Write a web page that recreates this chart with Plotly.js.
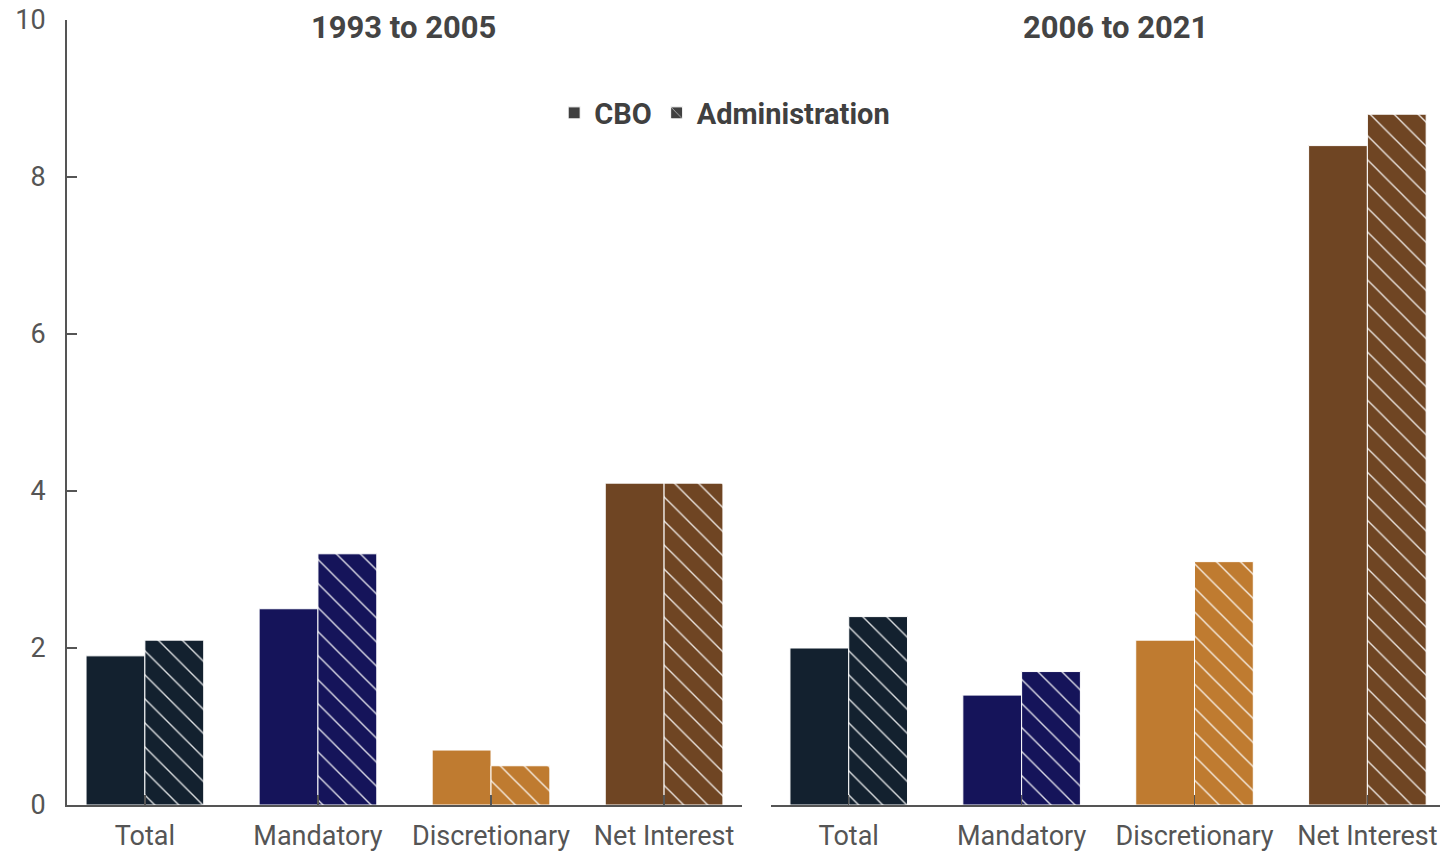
<!DOCTYPE html>
<html>
<head>
<meta charset="utf-8">
<script src="https://cdn.plot.ly/plotly-3.0.1.min.js"></script>
<style>html,body{margin:0;padding:0;background:#fff;}#chart{width:1454px;height:852px;}</style>
</head>
<body>
<div id="chart"></div>
<script>
const categories = ['Total', 'Mandatory', 'Discretionary', 'Net Interest'];
const colors = ['#13212f', '#15145a', '#bf7b30', '#6f4523'];
const seriesNames = ['CBO', 'Administration'];
const legendColor = '#404040';
const panelTitles = ['1993 to 2005', '2006 to 2021'];
const cbo1993 = [1.9, 2.5, 0.7, 4.1];
const admin1993 = [2.1, 3.2, 0.5, 4.1];
const cbo2006 = [2.0, 1.4, 2.1, 8.4];
const admin2006 = [2.4, 1.7, 3.1, 8.8];
const yTicks = [0, 2, 4, 6, 8, 10];

function hatch() {
  return {shape: '\\', fillmode: 'overlay', fgcolor: '#ffffff', fgopacity: 0.85, size: 17, solidity: 0.08};
}

const data = [];
// legend proxies (no visible bars)
seriesNames.forEach((nm, s) => {
  const m = {color: legendColor, line: {color: '#ffffff', width: 1}};
  if (s === 1) m.pattern = hatch();
  data.push({type: 'bar', name: nm, x: [categories[0]], y: [null], xaxis: 'x', yaxis: 'y',
             offsetgroup: 'g' + s, marker: m, showlegend: true, hoverinfo: 'skip'});
});

function addPanel(cboVals, adminVals, xa, ya) {
  [cboVals, adminVals].forEach((vals, s) => {
    categories.forEach((cat, i) => {
      const m = {color: colors[i], line: {color: '#ffffff', width: 1}};
      if (s === 1) m.pattern = hatch();
      data.push({type: 'bar', name: seriesNames[s], x: [cat], y: [vals[i]], xaxis: xa, yaxis: ya,
                 offsetgroup: 'g' + s, marker: m, showlegend: false, hoverinfo: 'x+y'});
    });
  });
}
addPanel(cbo1993, admin1993, 'x', 'y');
addPanel(cbo2006, admin2006, 'x2', 'y2');

const tickFont = {family: 'Roboto, sans-serif', size: 27, color: '#555555'};
const xCommon = {
  type: 'category', categoryorder: 'array', categoryarray: categories,
  showline: true, linecolor: '#555555', linewidth: 2,
  ticks: 'inside', ticklen: 10, tickcolor: '#555555', tickwidth: 1.5,
  tickfont: tickFont, ticklabelstandoff: 6, showgrid: false, zeroline: false, fixedrange: true
};

const layout = {
  width: 1454, height: 852,
  paper_bgcolor: '#ffffff', plot_bgcolor: '#ffffff',
  margin: {l: 67, r: 14, t: 20, b: 47},
  barmode: 'group', bargap: 0.32, bargroupgap: 0,
  showlegend: true,
  legend: {orientation: 'h', x: 0.479, xanchor: 'center', y: 0.8815, yanchor: 'middle', traceorder: 'normal',
           font: {family: 'Roboto, sans-serif', size: 29, color: '#404040', weight: 'bold'},
           bgcolor: 'rgba(0,0,0,0)', itemclick: false, itemdoubleclick: false},
  xaxis: Object.assign({}, xCommon, {domain: [0, 0.4916], range: [-0.45, 3.45]}),
  xaxis2: Object.assign({}, xCommon, {domain: [0.5127, 1], range: [-0.45, 3.42]}),
  yaxis: {range: [0, 10], tickvals: yTicks, showline: true, linecolor: '#555555', linewidth: 2,
          ticks: 'inside', ticklen: 10, tickcolor: '#555555', tickwidth: 1.5,
          tickfont: tickFont, ticklabelstandoff: 14, showgrid: false, zeroline: false, fixedrange: true},
  yaxis2: {range: [0, 10], anchor: 'x2', visible: false, showgrid: false, zeroline: false, fixedrange: true},
  annotations: [
    {text: panelTitles[0], xref: 'paper', yref: 'paper', x: 0.2454, y: 0.991, xanchor: 'center', yanchor: 'middle',
     showarrow: false, font: {family: 'Roboto, sans-serif', size: 31, color: '#444444', weight: 'bold'}},
    {text: panelTitles[1], xref: 'paper', yref: 'paper', x: 0.7633, y: 0.991, xanchor: 'center', yanchor: 'middle',
     showarrow: false, font: {family: 'Roboto, sans-serif', size: 31, color: '#444444', weight: 'bold'}}
  ]
};

Plotly.newPlot('chart', data, layout, {displayModeBar: false, staticPlot: true});
</script>
</body>
</html>
